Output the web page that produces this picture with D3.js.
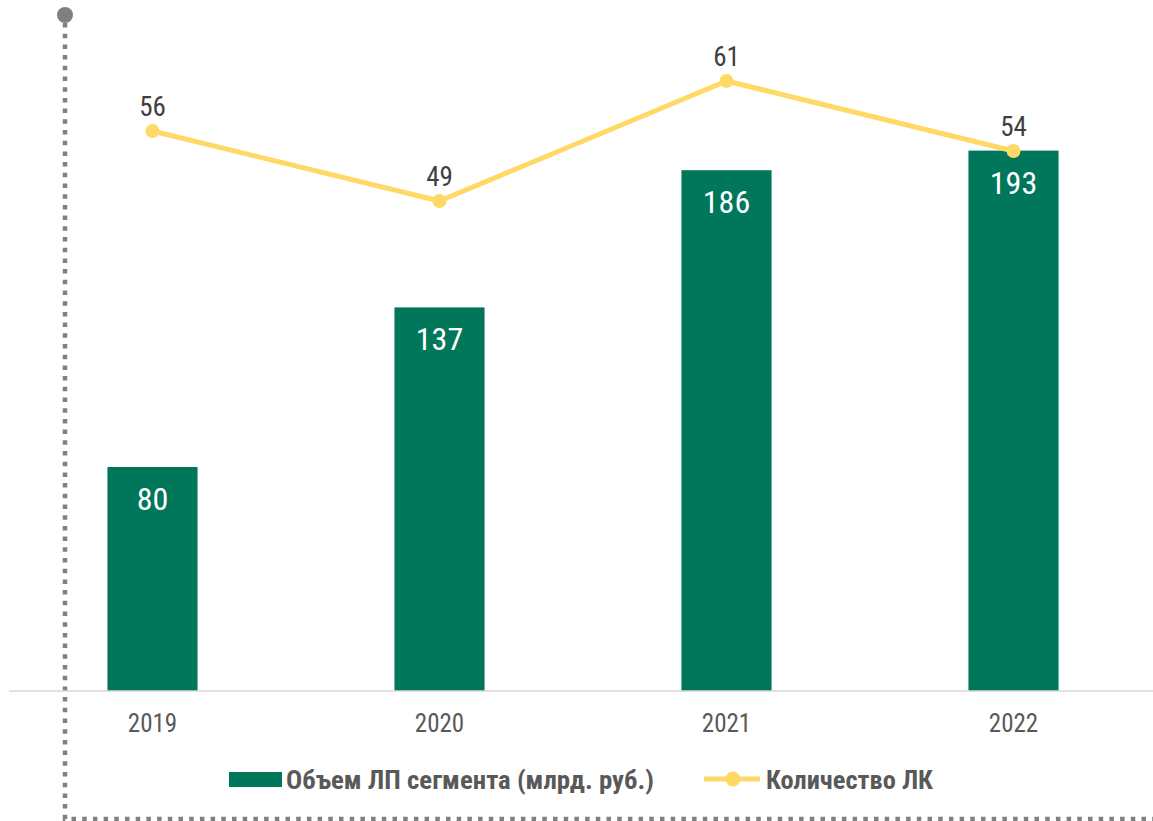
<!DOCTYPE html>
<html>
<head>
<meta charset="utf-8">
<script src="https://cdn.jsdelivr.net/npm/d3@7"></script>
<style>
  body { margin: 0; background: #fff; }
  text { font-family: "Roboto Condensed", "Liberation Sans Narrow", "Roboto", sans-serif; }
</style>
</head>
<body>
<div id="vis"></div>
<script>
const years = ['2019', '2020', '2021', '2022'];
const volume = [80, 137, 186, 193];   // Объем ЛП сегмента (млрд. руб.)
const companies = [56, 49, 61, 54];   // Количество ЛК
const legendLabels = ['Объем ЛП сегмента (млрд. руб.)', 'Количество ЛК'];

const svgWidth = 1153;
const svgHeight = 821;
const BASE_Y = 691;

const GREEN = '#00775a';
const YELLOW = '#ffd966';
const GREY = '#808080';
const TEXT = '#595959';

const svg = d3.select('#vis').append('svg').attr('width', svgWidth).attr('height', svgHeight);

const x = d3.scaleBand().domain(years).range([9, 1157]).paddingInner(0.686).paddingOuter(0.343);
const yBar = d3.scaleLinear().domain([0, 200]).range([BASE_Y, BASE_Y - 560]);
const yLine = d3.scaleLinear().domain([0, 60]).range([BASE_Y, BASE_Y - 600]);

const data = years.map((yr, i) => ({ year: yr, vol: volume[i], cnt: companies[i] }));

// dotted frame on the left and bottom
svg.append('path')
  .attr('d', `M65,23 V819 H1153`)
  .attr('fill', 'none')
  .attr('stroke', GREY)
  .attr('stroke-width', 4.5)
  .attr('stroke-dasharray', '4.5 6.2');
svg.append('circle').attr('cx', 65).attr('cy', 15).attr('r', 8).attr('fill', GREY);

// bars
svg.append('g').selectAll('rect').data(data).join('rect')
  .attr('x', (d) => x(d.year))
  .attr('y', (d) => yBar(d.vol))
  .attr('width', x.bandwidth())
  .attr('height', (d) => yBar(0) - yBar(d.vol))
  .attr('fill', GREEN);

svg.append('g').selectAll('text').data(data).join('text')
  .attr('x', (d) => x(d.year) + x.bandwidth() / 2)
  .attr('y', (d) => yBar(d.vol) + 43)
  .attr('text-anchor', 'middle')
  .attr('fill', '#fff')
  .attr('font-size', 32)
  .text((d) => d.vol);

// category axis
const xAxis = d3.axisBottom(x).tickSize(0).tickPadding(23);
const axisG = svg.append('g').attr('transform', `translate(0,${BASE_Y})`).call(xAxis);
axisG.select('.domain').attr('stroke', '#d9d9d9').attr('stroke-width', 1.5).attr('d', 'M9,0H1153');
axisG.selectAll('text').attr('font-size', 25).attr('fill', TEXT).attr('font-family', null);

// line series
const cx = (d) => x(d.year) + x.bandwidth() / 2;
const line = d3.line().x(cx).y((d) => yLine(d.cnt));
svg.append('path').datum(data)
  .attr('d', line)
  .attr('fill', 'none')
  .attr('stroke', YELLOW)
  .attr('stroke-width', 5)
  .attr('stroke-linejoin', 'round');
svg.append('g').selectAll('circle').data(data).join('circle')
  .attr('cx', cx)
  .attr('cy', (d) => yLine(d.cnt))
  .attr('r', 7)
  .attr('fill', YELLOW);
svg.append('g').selectAll('text').data(data).join('text')
  .attr('x', cx)
  .attr('y', (d) => yLine(d.cnt) - 15)
  .attr('text-anchor', 'middle')
  .attr('fill', '#404040')
  .attr('font-size', 27)
  .text((d) => d.cnt);

// legend
const legend = svg.append('g');
legend.append('rect').attr('x', 229).attr('y', 772).attr('width', 53).attr('height', 15).attr('fill', GREEN);
legend.append('text').attr('x', 286).attr('y', 789)
  .attr('font-size', 26).attr('font-weight', 'bold').attr('fill', TEXT)
  .attr('textLength', 368).attr('lengthAdjust', 'spacingAndGlyphs')
  .text(legendLabels[0]);
legend.append('line').attr('x1', 704).attr('x2', 760).attr('y1', 779).attr('y2', 779)
  .attr('stroke', YELLOW).attr('stroke-width', 5);
legend.append('circle').attr('cx', 733).attr('cy', 779).attr('r', 7.5).attr('fill', YELLOW);
legend.append('text').attr('x', 766).attr('y', 789)
  .attr('font-size', 26).attr('font-weight', 'bold').attr('fill', TEXT)
  .attr('textLength', 167).attr('lengthAdjust', 'spacingAndGlyphs')
  .text(legendLabels[1]);
</script>
</body>
</html>
